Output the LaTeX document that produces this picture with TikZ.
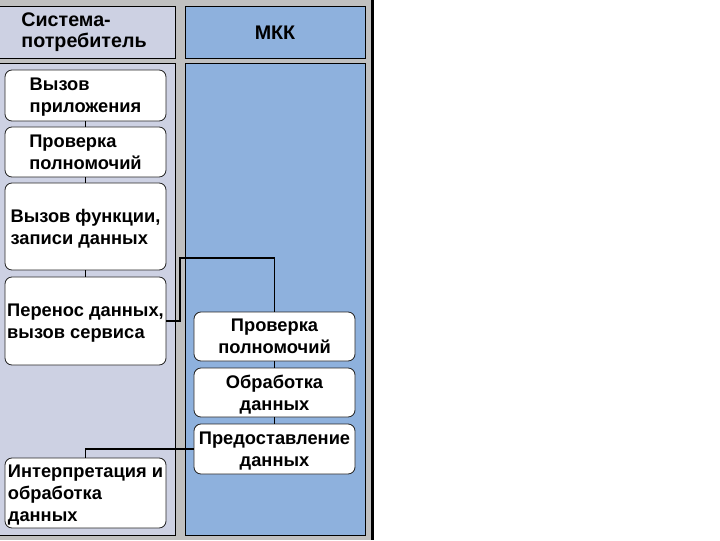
\documentclass[tikz,border=0pt]{standalone}
\usepackage{fontspec}
\setmainfont{Liberation Sans}
\usetikzlibrary{positioning}
\definecolor{lanegray}{HTML}{C0C0C0}
\definecolor{userlane}{HTML}{CDD1E3}
\definecolor{mkklane}{HTML}{8EB1DD}

\begin{document}
\begin{tikzpicture}[x=0.025cm, y=-0.025cm,
  lane/.style={draw=black, line width=0.6pt, fill=#1},
  hdr/.style={font=\fontsize{14}{14.8}\selectfont\bfseries, align=#1},
  stepbox/.style={rectangle, rounded corners=5pt, draw=black!85, fill=white, line width=0.6pt,
                  minimum width=4.025cm, minimum height=#1, inner xsep=1pt, inner ysep=0pt,
                  text depth=-3pt, font=\fontsize{13}{15.6}\selectfont\bfseries},
  userstep/.style={stepbox=#1, align=left},
  mkkstep/.style={stepbox=#1, align=center},
  link/.style={draw=black, line width=1.4pt},
]
  \useasboundingbox (0,0) rectangle (720,540);
  \fill[lanegray] (0,0) rectangle (372,540);
  \draw[line width=1.5pt] (372.5,0) -- (372.5,540);

  \path[lane=userlane] (-1,6) rectangle (175,58);
  \path[lane=mkklane] (185,6) rectangle (365,58);
  \path[lane=userlane] (-1,63) rectangle (175,535);
  \path[lane=mkklane] (185,63) rectangle (365,535);

  \node[hdr=left] (userhdr) at (84,32) {Система-\\потребитель};
  \node[hdr=center] (mkkhdr) at (275,33) {МКК};

  \node[userstep=1.275cm, text depth=-6pt] (call) at (85.5,95.5) {Вызов\\приложения};
  \node[userstep=1.25cm] (check) at (85.5,152) {Проверка\\полномочий};
  \node[userstep=2.175cm] (func) at (85.5,226.5) {Вызов функции,\\записи данных};
  \node[userstep=2.2cm] (transfer) at (85.5,321) {Перенос данных,\\вызов сервиса};
  \node[userstep=1.75cm] (interp) at (85.5,493) {Интерпретация и\\обработка\\данных};

  \node[mkkstep=1.225cm] (mkkcheck) at (274.5,336.5) {Проверка\\полномочий};
  \node[mkkstep=1.225cm] (process) at (274.5,392.5) {Обработка\\данных};
  \node[mkkstep=1.25cm] (provide) at (274.5,449) {Предоставление\\данных};

  \draw[link] (call) -- (check);
  \draw[link] (check) -- (func);
  \draw[link] (func) -- (transfer);
  \draw[link] (transfer.east) -| (180,258) -| (mkkcheck.north);
  \draw[link] (mkkcheck) -- (process);
  \draw[link] (process) -- (provide);
  \draw[link] (provide.west) -| (interp.north);
\end{tikzpicture}
\end{document}
